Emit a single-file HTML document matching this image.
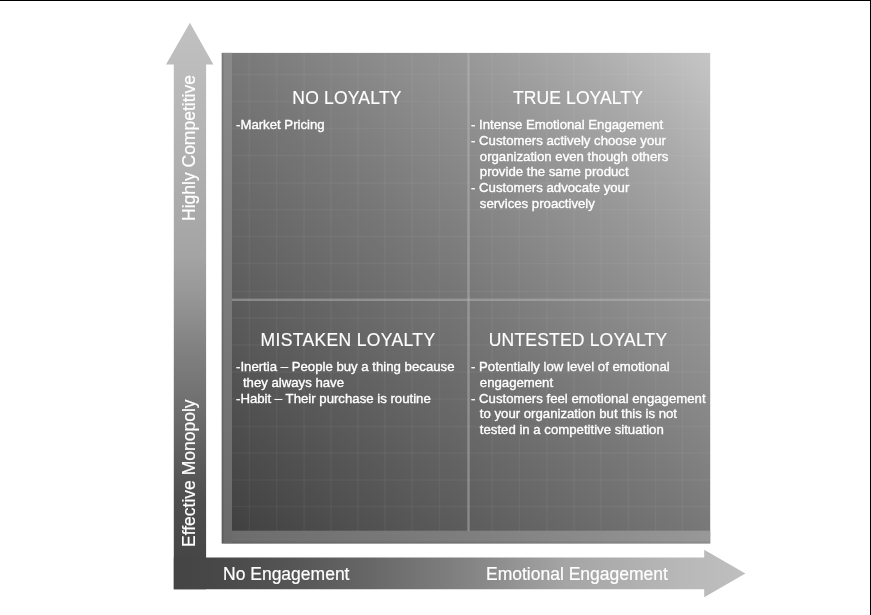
<!DOCTYPE html>
<html><head><meta charset="utf-8">
<style>
html,body{margin:0;padding:0;background:#fff;}
body{width:871px;height:615px;position:relative;overflow:hidden;font-family:"Liberation Sans",sans-serif;}
.bt{position:absolute;left:0;top:0;width:871px;height:1px;background:#000;}
.br{position:absolute;left:870px;top:0;width:1px;height:615px;background:#000;}
svg{position:absolute;left:0;top:0;}
#w{position:absolute;left:0;top:0;width:871px;height:615px;}
.t{position:absolute;color:#fff;white-space:nowrap;-webkit-text-stroke:0.35px #fff;will-change:transform;}
.h{font-size:17.5px;-webkit-text-stroke:0.15px #fff;width:300px;margin-left:-150px;text-align:center;}
.b{font-size:13.2px;line-height:15.8px;}
.c{padding-left:8.8px;}
.c2{padding-left:6.9px;}
.ax{font-size:17.5px;-webkit-text-stroke:0.2px #fff;}
.rot{transform-origin:0 0;transform:rotate(-90deg);}
</style></head><body><div id="w">
<svg width="871" height="615" viewBox="0 0 871 615">
<defs>
<linearGradient id="gv" x1="0" y1="23" x2="0" y2="589" gradientUnits="userSpaceOnUse"><stop offset="0" stop-color="#c1c1c1"/><stop offset="0.048" stop-color="#bebebe"/><stop offset="0.217" stop-color="#b2b2b2"/><stop offset="0.412" stop-color="#a4a4a4"/><stop offset="0.489" stop-color="#959595"/><stop offset="0.571" stop-color="#828282"/><stop offset="0.712" stop-color="#686868"/><stop offset="0.843" stop-color="#4e4e4e"/><stop offset="0.972" stop-color="#444444"/><stop offset="1" stop-color="#424242"/></linearGradient>
<linearGradient id="gh" x1="174" y1="0" x2="746" y2="0" gradientUnits="userSpaceOnUse"><stop offset="0" stop-color="#444444"/><stop offset="0.065" stop-color="#474747"/><stop offset="0.213" stop-color="#565656"/><stop offset="0.336" stop-color="#666666"/><stop offset="0.458" stop-color="#7a7a7a"/><stop offset="0.523" stop-color="#858585"/><stop offset="0.685" stop-color="#a5a5a5"/><stop offset="0.888" stop-color="#b8b8b8"/><stop offset="1" stop-color="#bfbfbf"/></linearGradient>
<linearGradient id="gb" x1="222" y1="543" x2="710" y2="53" gradientUnits="userSpaceOnUse"><stop offset="0" stop-color="#3e3e3e"/><stop offset="0.05" stop-color="#444444"/><stop offset="0.21" stop-color="#565656"/><stop offset="0.5" stop-color="#777777"/><stop offset="0.75" stop-color="#989898"/><stop offset="0.86" stop-color="#aaaaaa"/><stop offset="0.98" stop-color="#c2c2c2"/><stop offset="1" stop-color="#c5c5c5"/></linearGradient>
<linearGradient id="gl" x1="0" y1="53" x2="0" y2="543" gradientUnits="userSpaceOnUse"><stop offset="0" stop-color="#8a8a8a"/><stop offset="1" stop-color="#6a6a6a"/></linearGradient>
<linearGradient id="gbs" x1="222" y1="0" x2="710" y2="0" gradientUnits="userSpaceOnUse"><stop offset="0" stop-color="#6c6c6c"/><stop offset="0.5" stop-color="#7e7e7e"/><stop offset="1" stop-color="#989898"/></linearGradient>
</defs>
<path d="M189.9 22.8 L213.4 64.5 L206.1 64.5 L206.1 589.3 L173.8 589.3 L173.8 64.5 L166 64.5 Z" fill="url(#gv)"/>
<path d="M173.8 557.5 L704.2 557.5 L704.2 549.8 L745.4 573.5 L704.2 597.3 L704.2 589.3 L173.8 589.3 Z" fill="url(#gh)"/>
<rect x="221.8" y="52.9" width="488.4" height="490.5" fill="url(#gb)"/>
<rect x="221.8" y="52.9" width="10.2" height="490.5" fill="url(#gl)"/>
<rect x="232" y="530.7" width="478.2" height="12.7" fill="url(#gbs)"/>
<rect x="222" y="53" width="1.5" height="490" fill="#000" fill-opacity="0.12"/>
<rect x="232" y="541.5" width="478" height="1.5" fill="#000" fill-opacity="0.08"/>
<rect x="248.55" y="53" width="1.5" height="478" fill="#fff" fill-opacity="0.045"/><rect x="275.95" y="53" width="1.5" height="478" fill="#fff" fill-opacity="0.045"/><rect x="303.35" y="53" width="1.5" height="478" fill="#fff" fill-opacity="0.045"/><rect x="330.25" y="53" width="1.5" height="478" fill="#fff" fill-opacity="0.045"/><rect x="357.25" y="53" width="1.5" height="478" fill="#fff" fill-opacity="0.045"/><rect x="384.25" y="53" width="1.5" height="478" fill="#fff" fill-opacity="0.045"/><rect x="411.25" y="53" width="1.5" height="478" fill="#fff" fill-opacity="0.045"/><rect x="438.75" y="53" width="1.5" height="478" fill="#fff" fill-opacity="0.045"/><rect x="491.45" y="53" width="1.5" height="478" fill="#fff" fill-opacity="0.045"/><rect x="518.65" y="53" width="1.5" height="478" fill="#fff" fill-opacity="0.045"/><rect x="546.25" y="53" width="1.5" height="478" fill="#fff" fill-opacity="0.045"/><rect x="573.45" y="53" width="1.5" height="478" fill="#fff" fill-opacity="0.045"/><rect x="600.25" y="53" width="1.5" height="478" fill="#fff" fill-opacity="0.045"/><rect x="627.55" y="53" width="1.5" height="478" fill="#fff" fill-opacity="0.045"/><rect x="654.85" y="53" width="1.5" height="478" fill="#fff" fill-opacity="0.045"/><rect x="681.75" y="53" width="1.5" height="478" fill="#fff" fill-opacity="0.045"/><rect x="232" y="73.75" width="478" height="1.5" fill="#fff" fill-opacity="0.045"/><rect x="232" y="100.75" width="478" height="1.5" fill="#fff" fill-opacity="0.045"/><rect x="232" y="127.75" width="478" height="1.5" fill="#fff" fill-opacity="0.045"/><rect x="232" y="154.75" width="478" height="1.5" fill="#fff" fill-opacity="0.045"/><rect x="232" y="182.25" width="478" height="1.5" fill="#fff" fill-opacity="0.045"/><rect x="232" y="208.85" width="478" height="1.5" fill="#fff" fill-opacity="0.045"/><rect x="232" y="235.65" width="478" height="1.5" fill="#fff" fill-opacity="0.045"/><rect x="232" y="262.75" width="478" height="1.5" fill="#fff" fill-opacity="0.045"/><rect x="232" y="290.75" width="478" height="1.5" fill="#fff" fill-opacity="0.045"/><rect x="232" y="317.25" width="478" height="1.5" fill="#fff" fill-opacity="0.045"/><rect x="232" y="344.25" width="478" height="1.5" fill="#fff" fill-opacity="0.045"/><rect x="232" y="371.25" width="478" height="1.5" fill="#fff" fill-opacity="0.045"/><rect x="232" y="398.25" width="478" height="1.5" fill="#fff" fill-opacity="0.045"/><rect x="232" y="425.75" width="478" height="1.5" fill="#fff" fill-opacity="0.045"/><rect x="232" y="452.25" width="478" height="1.5" fill="#fff" fill-opacity="0.045"/><rect x="232" y="479.25" width="478" height="1.5" fill="#fff" fill-opacity="0.045"/><rect x="232" y="505.75" width="478" height="1.5" fill="#fff" fill-opacity="0.045"/>
<rect x="467.3" y="53" width="2.4" height="478" fill="#b9b9b9" fill-opacity="0.48"/>
<rect x="232" y="298.6" width="478" height="2.4" fill="#b9b9b9" fill-opacity="0.48"/>
</svg>
<div class="bt"></div><div class="br"></div>

<div class="t h" style="left:347.2px;top:88.4px;letter-spacing:0.2px;">NO LOYALTY</div>
<div class="t h" style="left:578.2px;top:88.4px;letter-spacing:0.1px;">TRUE LOYALTY</div>
<div class="t h" style="left:348px;top:330.4px;letter-spacing:0.35px;">MISTAKEN LOYALTY</div>
<div class="t h" style="left:578.4px;top:330.4px;letter-spacing:0.2px;">UNTESTED LOYALTY</div>

<div class="t b" style="left:236px;top:117.1px;"><div>-Market Pricing</div></div>
<div class="t b" style="left:471px;top:117.1px;"><div>- Intense Emotional Engagement</div><div>- Customers actively choose your</div><div class="c">organization even though others</div><div class="c">provide the same product</div><div>- Customers advocate your</div><div class="c">services proactively</div></div>
<div class="t b" style="left:236px;top:359.4px;"><div>-Inertia – People buy a thing because</div><div class="c2">they always have</div><div>-Habit – Their purchase is routine</div></div>
<div class="t b" style="left:471px;top:359.4px;"><div>- Potentially low level of emotional</div><div class="c">engagement</div><div>- Customers feel emotional engagement</div><div class="c">to your organization but this is not</div><div class="c">tested in a competitive situation</div></div>

<div class="t ax" style="left:223px;top:563.9px;">No Engagement</div>
<div class="t ax" style="left:486px;top:563.9px;">Emotional Engagement</div>
<div class="t ax rot" style="left:178.5px;top:221.4px;">Highly Competitive</div>
<div class="t ax rot" style="left:178.5px;top:547.2px;">Effective Monopoly</div>
</div></body></html>
